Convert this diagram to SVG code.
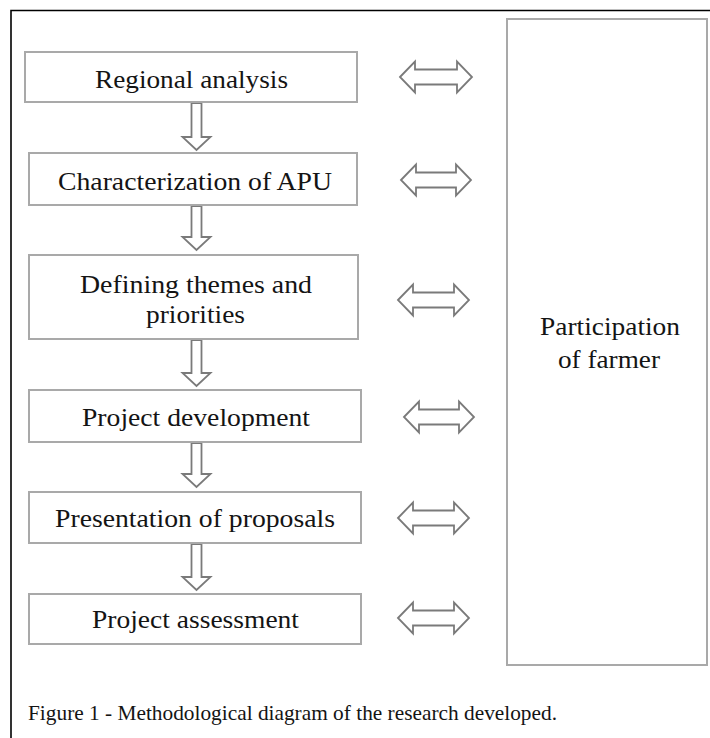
<svg xmlns="http://www.w3.org/2000/svg" width="710" height="738" viewBox="0 0 710 738">
<style>
.box{fill:#fff;stroke:#a9a9a9;stroke-width:2}
.arr{fill:#fff;stroke:#7a7a7a;stroke-width:1.8;stroke-linejoin:miter}
.t{font-family:'Liberation Serif','Times New Roman',serif;font-size:25px;fill:#141414}
.cap{font-family:'Liberation Serif','Times New Roman',serif;font-size:21px;fill:#141414}
</style>
<rect width="710" height="738" fill="#fff"/>
<path d="M11,738 V10.5 H710" fill="none" stroke="#000" stroke-width="1.6"/>

<g id="connectors">
<path class="arr" d="M191.5,103 H201.5 V137 H210.5 L196.5,150 L182.5,137 H191.5 Z"/>
<path class="arr" d="M191.5,206 H201.5 V237 H210.5 L196.5,250 L182.5,237 H191.5 Z"/>
<path class="arr" d="M191.5,340 H201.5 V373 H210.5 L196.5,386 L182.5,373 H191.5 Z"/>
<path class="arr" d="M191.5,443 H201.5 V474 H210.5 L196.5,487 L182.5,474 H191.5 Z"/>
<path class="arr" d="M191.5,544 H201.5 V577 H210.5 L196.5,590 L182.5,577 H191.5 Z"/>
<path class="arr" d="M400,77 L415,61.5 V69.5 H457 V61.5 L472,77 L457,92.5 V84.5 H415 V92.5 Z"/>
<path class="arr" d="M401,180 L416,164.5 V172.5 H456 V164.5 L471,180 L456,195.5 V187.5 H416 V195.5 Z"/>
<path class="arr" d="M398,300 L413,284.5 V292.5 H454 V284.5 L469,300 L454,315.5 V307.5 H413 V315.5 Z"/>
<path class="arr" d="M404,417 L419,401.5 V409.5 H459 V401.5 L474,417 L459,432.5 V424.5 H419 V432.5 Z"/>
<path class="arr" d="M398,518 L413,502.5 V510.5 H454 V502.5 L469,518 L454,533.5 V525.5 H413 V533.5 Z"/>
<path class="arr" d="M398,618 L413,602.5 V610.5 H454 V602.5 L469,618 L454,633.5 V625.5 H413 V633.5 Z"/>
</g>

<g id="node-regional">
<rect class="box" x="25" y="52" width="332" height="50"/>
<text class="t" x="95" y="88" textLength="193" lengthAdjust="spacingAndGlyphs">Regional analysis</text>
</g>
<g id="node-characterization">
<rect class="box" x="29" y="153" width="328" height="52"/>
<text class="t" x="58" y="190" textLength="274" lengthAdjust="spacingAndGlyphs">Characterization of APU</text>
</g>
<g id="node-themes">
<rect class="box" x="29" y="255" width="329" height="84"/>
<text class="t" x="80" y="293" textLength="232" lengthAdjust="spacingAndGlyphs">Defining themes and</text>
<text class="t" x="146" y="323" textLength="99" lengthAdjust="spacingAndGlyphs">priorities</text>
</g>
<g id="node-development">
<rect class="box" x="29" y="390" width="332" height="52"/>
<text class="t" x="82" y="426" textLength="228" lengthAdjust="spacingAndGlyphs">Project development</text>
</g>
<g id="node-presentation">
<rect class="box" x="29" y="492" width="332" height="51"/>
<text class="t" x="55" y="527" textLength="280" lengthAdjust="spacingAndGlyphs">Presentation of proposals</text>
</g>
<g id="node-assessment">
<rect class="box" x="29" y="594" width="332" height="50"/>
<text class="t" x="92" y="628" textLength="207" lengthAdjust="spacingAndGlyphs">Project assessment</text>
</g>
<g id="node-farmer">
<rect class="box" x="507" y="19" width="200" height="646"/>
<text class="t" x="540" y="335" textLength="140" lengthAdjust="spacingAndGlyphs">Participation</text>
<text class="t" x="558" y="368" textLength="102" lengthAdjust="spacingAndGlyphs">of farmer</text>
</g>

<text class="cap" x="28" y="720" textLength="529" lengthAdjust="spacingAndGlyphs">Figure 1 - Methodological diagram of the research developed.</text>
</svg>
